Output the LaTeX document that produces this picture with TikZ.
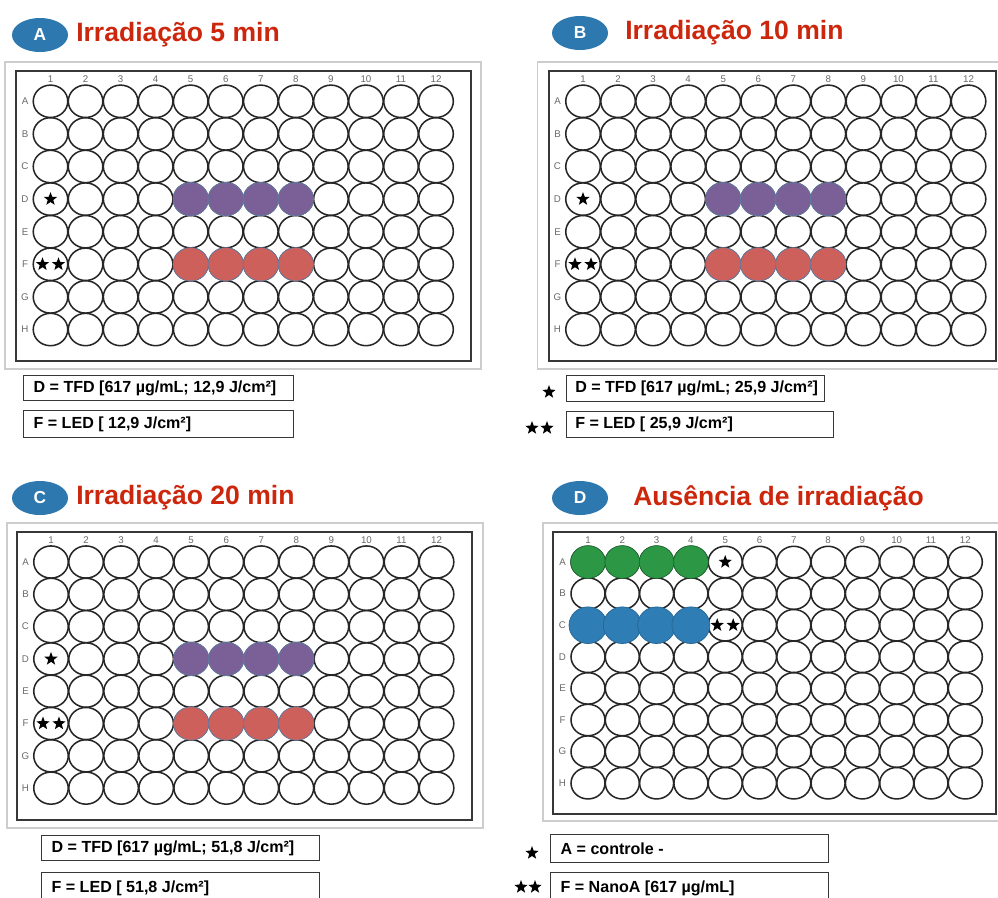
\documentclass[tikz,border=0pt]{standalone}
\usepackage{fontspec}
\setmainfont{Liberation Sans}
\usetikzlibrary{shapes.geometric}
\definecolor{hdrblue}{RGB}{46,120,176}
\definecolor{ttlred}{RGB}{204,38,12}
\definecolor{wellpurple}{RGB}{122,96,150}
\definecolor{wellred}{RGB}{206,96,92}
\definecolor{wellgreen}{RGB}{44,152,70}
\definecolor{wellblue}{RGB}{46,125,181}
\definecolor{welledge}{RGB}{95,125,165}
\definecolor{framedark}{RGB}{55,55,55}
\definecolor{framelight}{RGB}{205,205,205}
\definecolor{lblgray}{RGB}{105,105,105}
\tikzset{
  well/.style={ellipse, draw=black!85, line width=1.15pt, inner sep=0pt},
  colwell/.style={ellipse, draw=welledge, line width=0.5pt, inner sep=0pt, minimum width=26.5pt, minimum height=25pt},
  collbl/.style={text=lblgray, font=\fontsize{7.3}{8}\selectfont, inner sep=0pt},
  rowlbl/.style={text=lblgray, font=\fontsize{7.3}{8}\selectfont, inner sep=0pt},
  hdr/.style={ellipse, fill=hdrblue, text=white, font=\bfseries\fontsize{13}{15}\selectfont, minimum width=42pt, minimum height=25.5pt, inner sep=0pt},
  ttl/.style={anchor=west, text=ttlred, font=\bfseries\fontsize{19.9}{22}\selectfont, inner sep=0pt},
  legbox/.style={draw=framedark, line width=0.9pt, anchor=north west, inner xsep=0pt, inner ysep=0pt, font=\bfseries\fontsize{12.05}{14}\selectfont},
  starm/.style={star, star points=5, star point ratio=2.4, fill=black, draw=none, minimum size=10.5pt, inner sep=0pt},
  outerframe/.style={draw=framelight, line width=0.8pt},
  innerframe/.style={draw=framedark, line width=1.5pt}
}
\newcommand\legtext[3][7.5pt]{\hbox to #2{\hspace{#1}#3\hfil}}
\newcommand\drawplate[7]{%
  \foreach \c in {1,...,12}{\node[collbl] (#1-n\c) at ({#2+(\c-1)*#4},{#3-22}) {\c};}
  \foreach \r [count=\ri] in {A,B,C,D,E,F,G,H}{
    \node[rowlbl] (#1-l\r) at ({#2-25.5},{#3+(\ri-1)*#5}) {\r};
    \foreach \c in {1,...,12}{
      \node[well, minimum width=#6, minimum height=#7] (#1-\r\c) at ({#2+(\c-1)*#4},{#3+(\ri-1)*#5}) {};
    }
  }
}
\begin{document}
\begin{tikzpicture}[x=0.75pt,y=-0.75pt]
\useasboundingbox[fill=white] (0,0) rectangle (998,897);

% ---------- Panel A ----------
\node[hdr] (hA) at (40,35) {A};
\node[ttl] (tA) at (76,35) {Irradiação 5 min};
\draw[outerframe] (5,62) rectangle (481,369);
\draw[innerframe] (16,71) rectangle (471,361);
\drawplate{PA}{50.5}{101.3}{35.05}{32.6}{25.9pt}{24.3pt}
\foreach \c in {5,6,7,8}{
  \node[colwell, fill=wellpurple] (PA-p\c) at (PA-D\c) {};
  \node[colwell, fill=wellred] (PA-r\c) at (PA-F\c) {};
}
\node[starm] (PA-s1) at (PA-D1) {};
\node[starm, xshift=-6pt] (PA-s2) at (PA-F1) {};
\node[starm, xshift=6pt] (PA-s3) at (PA-F1) {};
\node[legbox, minimum height=18.75pt] (LA1) at (23,375) {\legtext{202.5pt}{D = TFD [617 µg/mL; 12,9 J/cm²]}};
\node[legbox, minimum height=20.25pt] (LA2) at (23,410) {\legtext{202.5pt}{F = LED [ 12,9 J/cm²]}};

% ---------- Panel B ----------
\node[hdr] (hB) at (580,33) {B};
\node[ttl] (tB) at (625,33) {Irradiação 10 min};
\draw[outerframe] (537.5,62) rectangle (1013,369);
\draw[innerframe] (548.5,71) rectangle (996,361);
\drawplate{PB}{583}{101.3}{35.05}{32.6}{25.9pt}{24.3pt}
\foreach \c in {5,6,7,8}{
  \node[colwell, fill=wellpurple] (PB-p\c) at (PB-D\c) {};
  \node[colwell, fill=wellred] (PB-r\c) at (PB-F\c) {};
}
\node[starm] (PB-s1) at (PB-D1) {};
\node[starm, xshift=-6pt] (PB-s2) at (PB-F1) {};
\node[starm, xshift=6pt] (PB-s3) at (PB-F1) {};
\node[legbox, minimum height=19.5pt] (LB1) at (566,375) {\legtext[6.5pt]{193.5pt}{D = TFD [617 µg/mL; 25,9 J/cm²]}};
\node[legbox, minimum height=19.5pt] (LB2) at (566,411) {\legtext[6.5pt]{200.25pt}{F = LED [ 25,9 J/cm²]}};
\node[starm] (LBs1) at (549,392) {};
\node[starm] (LBs2) at (532,428) {};
\node[starm] (LBs3) at (547,428) {};

% ---------- Panel C ----------
\node[hdr] (hC) at (40,498) {C};
\node[ttl] (tC) at (76,498) {Irradiação 20 min};
\draw[outerframe] (7,523) rectangle (483,828);
\draw[innerframe] (17,532) rectangle (472,820);
\drawplate{PC}{51}{562}{35.05}{32.3}{25.9pt}{24.1pt}
\foreach \c in {5,6,7,8}{
  \node[colwell, fill=wellpurple] (PC-p\c) at (PC-D\c) {};
  \node[colwell, fill=wellred] (PC-r\c) at (PC-F\c) {};
}
\node[starm] (PC-s1) at (PC-D1) {};
\node[starm, xshift=-6pt] (PC-s2) at (PC-F1) {};
\node[starm, xshift=6pt] (PC-s3) at (PC-F1) {};
\node[legbox, minimum height=18.75pt] (LC1) at (41,835) {\legtext{208.5pt}{D = TFD [617 µg/mL; 51,8 J/cm²]}};
\node[legbox, minimum height=24pt] (LC2) at (41,872) {\legtext{208.5pt}{F = LED [ 51,8 J/cm²]}};

% ---------- Panel D ----------
\node[hdr] (hD) at (580,498) {D};
\node[ttl] (tD) at (633,498) {Ausência de irradiação};
\draw[outerframe] (543,523) rectangle (1010,821);
\draw[innerframe] (553,532) rectangle (996,814);
\drawplate{PD}{588}{562}{34.3}{31.6}{25.5pt}{23.6pt}
\foreach \c in {1,2,3,4}{
  \node[colwell, fill=wellgreen, draw=wellgreen!70!black, minimum width=26pt, minimum height=24.5pt] (PD-g\c) at (PD-A\c) {};
  \node[colwell, fill=wellblue, draw=wellblue!80!black, minimum width=28.5pt, minimum height=27.5pt] (PD-b\c) at (PD-C\c) {};
}
\node[starm] (PD-s1) at (PD-A5) {};
\node[starm, xshift=-6pt] (PD-s2) at (PD-C5) {};
\node[starm, xshift=6pt] (PD-s3) at (PD-C5) {};
\node[legbox, minimum height=21pt] (LD1) at (550,834) {\legtext{208.5pt}{A = controle -}};
\node[legbox, minimum height=24pt] (LD2) at (550,872) {\legtext{208.5pt}{F = NanoA [617 µg/mL]}};
\node[starm] (LDs1) at (532,853) {};
\node[starm] (LDs2) at (521,887) {};
\node[starm] (LDs3) at (535,887) {};
\end{tikzpicture}
\end{document}
